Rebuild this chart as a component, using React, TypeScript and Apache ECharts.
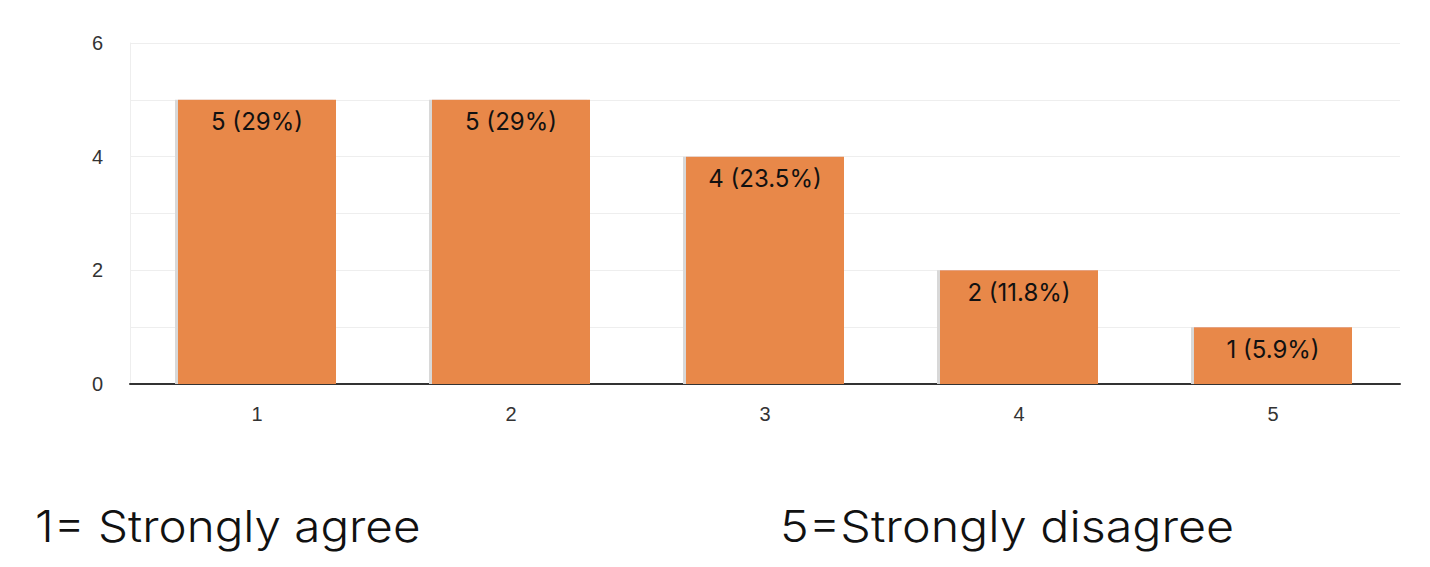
import React, { useEffect, useRef } from "react";
import * as echarts from "echarts";

const categories = ["1", "2", "3", "4", "5"];
const counts = [5, 5, 4, 2, 1];
const percents = ["29%", "29%", "23.5%", "11.8%", "5.9%"];
const yTicks = [0, 2, 4, 6];
const leftNote = "1= Strongly agree";
const rightNote = "5=Strongly disagree";

export default function App() {
  const ref = useRef<HTMLDivElement>(null);
  useEffect(() => {
    const chart = echarts.init(ref.current!, null, { renderer: "svg" });
    chart.setOption({
      animation: false,
      grid: { left: 130, right: 30, top: 43, bottom: 183 },
      xAxis: {
        type: "category",
        data: categories,
        axisLine: { lineStyle: { color: "#333", width: 2 } },
        axisTick: { show: false },
        axisLabel: { color: "#333", fontSize: 20, margin: 20, fontFamily: "Liberation Sans" },
      },
      yAxis: {
        type: "value",
        min: 0,
        max: 6,
        interval: 1,
        axisLine: { show: true, lineStyle: { color: "#eee" } },
        axisTick: { show: false },
        splitLine: { lineStyle: { color: "#eee" } },
        axisLabel: {
          color: "#333",
          fontSize: 20,
          margin: 27,
          fontFamily: "Liberation Sans",
          formatter: (v: number) => (yTicks.includes(v) ? String(v) : ""),
        },
      },
      series: [
        {
          type: "bar",
          data: counts,
          barWidth: 158,
          itemStyle: {
            color: "#E8884A",
            shadowColor: "#d8d8d8",
            shadowOffsetX: -3,
            shadowBlur: 0,
          },
          label: {
            show: true,
            position: "insideTop",
            distance: 10,
            color: "#111",
            fontSize: 24,
            fontFamily: "Inter",
            formatter: (p: any) => `${counts[p.dataIndex]} (${percents[p.dataIndex]})`,
          },
        },
      ],
      graphic: [
        {
          type: "text",
          x: 35,
          y: 504,
          scaleX: 1.08,
          style: { text: leftNote, font: "300 44px Inter", fill: "#111", textVerticalAlign: "top" },
        },
        {
          type: "text",
          x: 780,
          y: 504,
          scaleX: 1.1,
          style: { text: rightNote, font: "300 44px Inter", fill: "#111", textVerticalAlign: "top" },
        },
      ],
    });
    return () => chart.dispose();
  }, []);
  return <div ref={ref} style={{ width: 1430, height: 567, position: "absolute", left: 0, top: 0 }} />;
}
